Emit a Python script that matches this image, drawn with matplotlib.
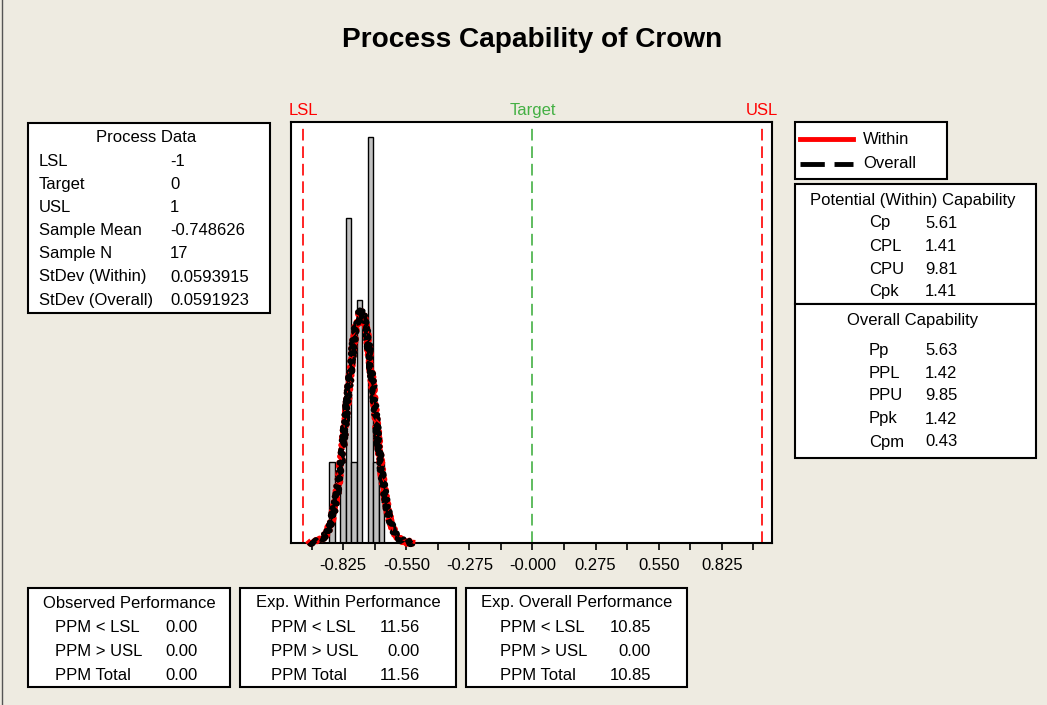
import numpy as np
import matplotlib
matplotlib.use("Agg")
import matplotlib.pyplot as plt
from matplotlib.patches import Rectangle
from matplotlib.lines import Line2D

plt.rcParams["font.family"] = ["Liberation Sans", "DejaVu Sans"]

W, H = 1047, 705
BG = "#EEEBE1"

# ── process data ──
LSL, TARGET, USL = -1.0, 0.0, 1.0
sample_mean = -0.748626
sample_n = 17
sd_within = 0.0593915
sd_overall = 0.0591923

bin_width = 0.024
bin_centers = [-0.874, -0.850, -0.826, -0.802, -0.778, -0.754, -0.730, -0.706, -0.682, -0.658]
bin_counts = [1, 0, 1, 4, 1, 3, 0, 5, 1, 1]

tick_values = [-0.825, -0.550, -0.275, 0.0, 0.275, 0.550, 0.825]
tick_labels = ["-0.825", "-0.550", "-0.275", "-0.000", "0.275", "0.550", "0.825"]
minor_ticks = [-0.9625, -0.6875, -0.4125, -0.1375, 0.1375, 0.4125, 0.6875, 0.9625]

process_rows = [("LSL", "-1"), ("Target", "0"), ("USL", "1"),
                ("Sample Mean", "-0.748626"), ("Sample N", "17"),
                ("StDev (Within)", "0.0593915"), ("StDev (Overall)", "0.0591923")]
within_rows = [("Cp", "5.61"), ("CPL", "1.41"), ("CPU", "9.81"), ("Cpk", "1.41")]
overall_rows = [("Pp", "5.63"), ("PPL", "1.42"), ("PPU", "9.85"), ("Ppk", "1.42"), ("Cpm", "0.43")]
observed_rows = [("PPM < LSL", "0.00"), ("PPM > USL", "0.00"), ("PPM Total", "0.00")]
exp_within_rows = [("PPM < LSL", "11.56"), ("PPM > USL", "0.00"), ("PPM Total", "11.56")]
exp_overall_rows = [("PPM < LSL", "10.85"), ("PPM > USL", "0.00"), ("PPM Total", "10.85")]


def fx(px):
    return px / W


def fy(py):
    return 1 - py / H


def box(fig, x0, y0, x1, y1):
    fig.add_artist(Rectangle((fx(x0), fy(y1)), fx(x1) - fx(x0), fy(y0) - fy(y1),
                             transform=fig.transFigure, facecolor="white",
                             edgecolor="black", linewidth=1.5))


def txt(fig, x, y, s, ha="left", **kw):
    fig.text(fx(x), fy(y), s, ha=ha, va="center", fontsize=12, **kw)


fig = plt.figure(figsize=(W / 100, H / 100), dpi=100, facecolor=BG)
fig.add_artist(Line2D([fx(1.5), fx(1.5)], [0, 1], transform=fig.transFigure,
                      color="#555555", linewidth=1))

fig.text(fx(532), fy(40), "Process Capability of Crown", ha="center", va="center",
         fontsize=20.2, fontweight="bold")

# ── histogram panel ──
ax = fig.add_axes([fx(291), fy(542.7), fx(771.7) - fx(291), fy(122) - fy(542.7)])
ax.set_facecolor("white")
ax.bar(bin_centers, bin_counts, width=bin_width, color="#C0C0C0",
       edgecolor="black", linewidth=1.0)

# fitted normal curves, scaled to the histogram counts
xs = np.linspace(sample_mean - 3.8 * sd_within, sample_mean + 3.8 * sd_within, 300)
scale = sample_n * bin_width * 1.035
y_within = scale * np.exp(-0.5 * ((xs - sample_mean) / sd_within) ** 2) / (sd_within * np.sqrt(2 * np.pi))
y_overall = scale * np.exp(-0.5 * ((xs - sample_mean) / sd_overall) ** 2) / (sd_overall * np.sqrt(2 * np.pi))
l1, = ax.plot(xs, y_within, color="red", linewidth=4.0, clip_on=False, zorder=3)
l2, = ax.plot(xs, y_overall, color="black", linewidth=4.0, clip_on=False, zorder=4,
              dashes=(2.0, 0.9))
for ln in (l1, l2):
    ln.set_sketch_params(scale=2.0, length=1.5, randomness=6)

for xv, col in ((LSL, "red"), (TARGET, "#44B044"), (USL, "red")):
    ax.axvline(xv, color=col, linewidth=1.2, dashes=(7, 3.5), zorder=2)
ax.text(LSL, 1.01, "LSL", transform=ax.get_xaxis_transform(), ha="center",
        va="bottom", color="red", fontsize=12)
ax.text(TARGET, 1.01, "Target", transform=ax.get_xaxis_transform(), ha="center",
        va="bottom", color="#44B044", fontsize=12)
ax.text(USL, 1.01, "USL", transform=ax.get_xaxis_transform(), ha="center",
        va="bottom", color="red", fontsize=12)

ax.set_xlim(-1.053, 1.043)
ax.set_ylim(0, 5.19)
ax.set_yticks([])
ax.set_xticks(tick_values)
ax.set_xticklabels(tick_labels, fontsize=12)
ax.set_xticks(minor_ticks, minor=True)
ax.tick_params(axis="x", which="both", direction="out", length=5, width=1.2, pad=6)
for sp in ax.spines.values():
    sp.set_linewidth(1.5)

# ── process data box ──
box(fig, 28, 123, 270, 313)
txt(fig, 146, 137, "Process Data", ha="center")
for i, (k, v) in enumerate(process_rows):
    y = 161 + i * 23.2
    txt(fig, 39, y, k)
    txt(fig, 170, y, v)

# ── legend ──
box(fig, 795, 122, 947, 179)
fig.add_artist(Line2D([fx(800), fx(853)], [fy(139), fy(139)], transform=fig.transFigure,
                      color="red", linewidth=3.5))
fig.add_artist(Line2D([fx(800), fx(853)], [fy(164), fy(164)], transform=fig.transFigure,
                      color="black", linewidth=3.5, dashes=(5, 2)))
txt(fig, 863, 139, "Within")
txt(fig, 863, 164, "Overall")

# ── capability boxes ──
box(fig, 795, 184, 1036, 304)
txt(fig, 913, 200, "Potential (Within) Capability", ha="center")
for i, (k, v) in enumerate(within_rows):
    y = 223 + i * 23
    txt(fig, 869, y, k)
    txt(fig, 925, y, v)

box(fig, 795, 304, 1036, 458)
txt(fig, 913, 321, "Overall Capability", ha="center")
for i, (k, v) in enumerate(overall_rows):
    y = 350 + i * 23
    txt(fig, 869, y, k)
    txt(fig, 925, y, v)

# ── performance boxes ──
for (x0, x1, title, rows, lx, vx) in (
        (28, 230, "Observed Performance", observed_rows, 55, 198),
        (240, 456, "Exp. Within Performance", exp_within_rows, 271, 420),
        (466, 687, "Exp. Overall Performance", exp_overall_rows, 500, 651)):
    box(fig, x0, 588, x1, 687)
    txt(fig, (x0 + x1) / 2, 603, title, ha="center")
    for i, (k, v) in enumerate(rows):
        y = 628 + i * 23.5
        txt(fig, lx, y, k)
        txt(fig, vx, y, v, ha="right")

fig.savefig("out.png", dpi=100, facecolor=BG)
